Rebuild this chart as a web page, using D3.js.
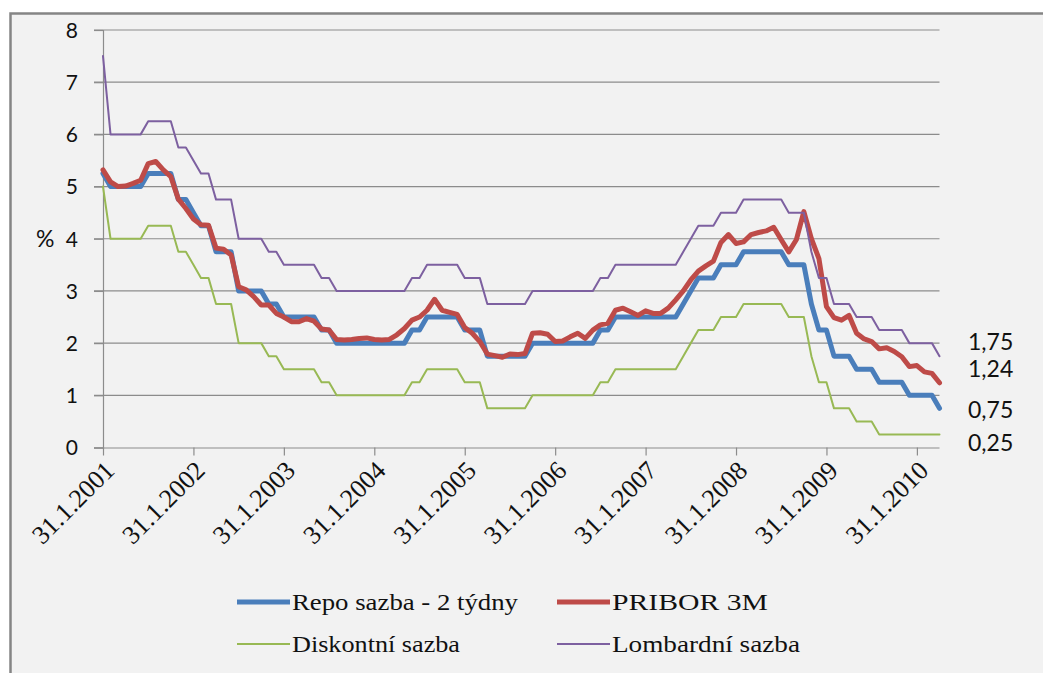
<!DOCTYPE html>
<html><head><meta charset="utf-8">
<script src="https://cdn.jsdelivr.net/npm/d3@7"></script>
<style>body{margin:0;background:#fff;}svg{display:block;}</style>
</head><body>
<svg id="c" width="1043" height="673"></svg>
<script>
const tickLabels = ["31.1.2001","31.1.2002","31.1.2003","31.1.2004","31.1.2005","31.1.2006","31.1.2007","31.1.2008","31.1.2009","31.1.2010"];
const monthsCount = 112;
const yTicks = [0,1,2,3,4,5,6,7,8];

const repo = [5.25,5,5,5,5,5,5.25,5.25,5.25,5.25,4.75,4.75,4.5,4.25,4.25,3.75,3.75,3.75,3,3,3,3,2.75,2.75,
2.5,2.5,2.5,2.5,2.5,2.25,2.25,2,2,2,2,2,2,2,2,2,2,2.25,2.25,2.5,2.5,2.5,2.5,2.5,
2.25,2.25,2.25,1.75,1.75,1.75,1.75,1.75,1.75,2,2,2,2,2,2,2,2,2,2.25,2.25,2.5,2.5,2.5,2.5,
2.5,2.5,2.5,2.5,2.5,2.75,3,3.25,3.25,3.25,3.5,3.5,3.5,3.75,3.75,3.75,3.75,3.75,3.75,3.5,3.5,3.5,
2.75,2.25,2.25,1.75,1.75,1.75,1.5,1.5,1.5,1.25,1.25,1.25,1.25,1,1,1,1,0.75];
const pribor = [5.32,5.09,5.0,5.01,5.06,5.12,5.44,5.48,5.32,5.19,4.76,4.58,4.38,4.27,4.26,3.82,3.8,3.69,3.08,3.02,2.89,2.73,2.73,2.57,
2.5,2.41,2.41,2.47,2.42,2.27,2.25,2.07,2.06,2.07,2.09,2.1,2.07,2.06,2.07,2.16,2.28,2.44,2.5,2.63,2.84,2.63,2.59,2.55,
2.3,2.19,2.03,1.79,1.76,1.73,1.79,1.78,1.8,2.19,2.2,2.17,2.03,2.04,2.12,2.19,2.09,2.25,2.35,2.38,2.63,2.67,2.6,2.53,
2.62,2.57,2.57,2.67,2.83,3.0,3.21,3.38,3.48,3.57,3.93,4.08,3.91,3.94,4.08,4.12,4.15,4.22,3.98,3.75,3.98,4.52,
4.0,3.62,2.7,2.49,2.44,2.53,2.19,2.08,2.03,1.89,1.91,1.84,1.74,1.55,1.57,1.45,1.42,1.24];
const diskont = [5,4,4,4,4,4,4.25,4.25,4.25,4.25,3.75,3.75,3.5,3.25,3.25,2.75,2.75,2.75,2,2,2,2,1.75,1.75,
1.5,1.5,1.5,1.5,1.5,1.25,1.25,1,1,1,1,1,1,1,1,1,1,1.25,1.25,1.5,1.5,1.5,1.5,1.5,
1.25,1.25,1.25,0.75,0.75,0.75,0.75,0.75,0.75,1,1,1,1,1,1,1,1,1,1.25,1.25,1.5,1.5,1.5,1.5,
1.5,1.5,1.5,1.5,1.5,1.75,2,2.25,2.25,2.25,2.5,2.5,2.5,2.75,2.75,2.75,2.75,2.75,2.75,2.5,2.5,2.5,
1.75,1.25,1.25,0.75,0.75,0.75,0.5,0.5,0.5,0.25,0.25,0.25,0.25,0.25,0.25,0.25,0.25,0.25];
const lombard = [7.5,6,6,6,6,6,6.25,6.25,6.25,6.25,5.75,5.75,5.5,5.25,5.25,4.75,4.75,4.75,4,4,4,4,3.75,3.75,
3.5,3.5,3.5,3.5,3.5,3.25,3.25,3,3,3,3,3,3,3,3,3,3,3.25,3.25,3.5,3.5,3.5,3.5,3.5,
3.25,3.25,3.25,2.75,2.75,2.75,2.75,2.75,2.75,3,3,3,3,3,3,3,3,3,3.25,3.25,3.5,3.5,3.5,3.5,
3.5,3.5,3.5,3.5,3.5,3.75,4,4.25,4.25,4.25,4.5,4.5,4.5,4.75,4.75,4.75,4.75,4.75,4.75,4.5,4.5,4.5,
3.75,3.25,3.25,2.75,2.75,2.75,2.5,2.5,2.5,2.25,2.25,2.25,2.25,2,2,2,2,1.75];

const seriesNames = ["Repo sazba - 2 týdny","PRIBOR 3M","Diskontní sazba","Lombardní sazba"];
const seriesColors = ["#4a7ebb","#be4b48","#98b954","#7d60a0"];
const seriesWidths = [5,5,2,2];
const endLabels = ["1,75","1,24","0,75","0,25"];

const svg = d3.select("#c");
svg.append("rect").attr("x",10.5).attr("y",13.5).attr("width",1040).attr("height",670)
  .attr("fill","#f2f2f2").attr("stroke","#858585").attr("stroke-width",2.5);

const x = d3.scaleLinear().domain([0, monthsCount-1]).range([103, 939.5]);
const y = d3.scaleLinear().domain([0, 8]).range([447.5, 30]);

svg.append("g").selectAll("line").data(yTicks.filter(d=>d>0)).join("line")
  .attr("x1",94).attr("x2",939.5).attr("y1",d=>y(d)).attr("y2",d=>y(d))
  .attr("stroke","#8c8c8c").attr("stroke-width",1.2);

const yAxis = svg.append("g").attr("transform","translate(103,0)")
  .call(d3.axisLeft(y).tickValues(yTicks).tickSize(9).tickFormat(d3.format("d")));
yAxis.attr("font-family","Lato").attr("font-size",21);
yAxis.select(".domain").attr("stroke","#8c8c8c").attr("stroke-width",1.2);
yAxis.selectAll(".tick line").attr("stroke","#8c8c8c").attr("stroke-width",1.2);
yAxis.selectAll("text").attr("fill","#111").attr("x",-25).attr("dy","0.35em");
svg.append("text").attr("x",36).attr("y",y(4)).attr("dy","0.35em")
  .attr("font-family","Lato").attr("font-size",23).attr("fill","#111").text("%");

const tickIdx = tickLabels.map((d,i)=>i*12);
const xAxis = svg.append("g").attr("transform",`translate(0,${y(0)})`)
  .call(d3.axisBottom(x).tickValues(tickIdx).tickSize(8).tickFormat((d,i)=>tickLabels[i]));
xAxis.attr("font-family","Liberation Serif").attr("font-size",26);
xAxis.select(".domain").attr("stroke","#8c8c8c").attr("stroke-width",1.2).attr("d",`M94,0.5H939.5`);
xAxis.selectAll(".tick line").attr("stroke","#8c8c8c").attr("stroke-width",1.2);
xAxis.selectAll("text").attr("fill","#111").attr("text-anchor","end").attr("dy","0.35em")
  .attr("transform","translate(6,18) rotate(-45)").attr("x",0).attr("y",0);

const allSeries = [repo, pribor, diskont, lombard];
const line = d3.line().x((d,i)=>x(i)).y(d=>y(d));
allSeries.forEach((s,k)=>{
  svg.append("path").datum(s).attr("d",line).attr("fill","none")
    .attr("stroke",seriesColors[k]).attr("stroke-width",seriesWidths[k])
    .attr("stroke-linejoin","round").attr("stroke-linecap","round");
});

svg.append("g").attr("font-family","Lato").attr("font-size",23)
  .selectAll("text").data(endLabels).join("text")
  .attr("x",968).attr("y",(d,i)=>[342,369,410,443][i]).attr("dy","0.35em")
  .attr("fill","#111").text(d=>d);

const legPos = [[237,602],[557,602],[237,644],[557,644]];
const legLen = [226,156,168,188];
const leg = svg.append("g").attr("font-family","Liberation Serif").attr("font-size",24);
seriesNames.forEach((n,k)=>{
  leg.append("line").attr("x1",legPos[k][0]).attr("x2",legPos[k][0]+53)
    .attr("y1",legPos[k][1]).attr("y2",legPos[k][1])
    .attr("stroke",seriesColors[k]).attr("stroke-width",seriesWidths[k]);
  leg.append("text").attr("x",legPos[k][0]+55).attr("y",legPos[k][1]).attr("dy","0.35em")
    .attr("fill","#111").attr("textLength", legLen[k]).attr("lengthAdjust","spacingAndGlyphs").text(n);
});
</script>
</body></html>
